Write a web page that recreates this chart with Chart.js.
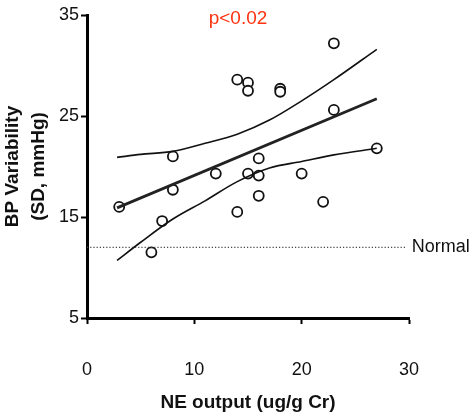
<!DOCTYPE html>
<html>
<head>
<meta charset="utf-8">
<script src="https://cdn.jsdelivr.net/npm/chart.js"></script>
<style>
    body { margin: 0; background: #fff; }
    #wrap { width: 473px; height: 416px; }
</style>
</head>
<body>
<div id="wrap"><canvas id="myChart" width="473" height="416"></canvas></div>
<script>
// NE output (x) vs BP variability (y), one point per subject
const neOutput = [3, 6, 7, 8, 8, 12, 14, 15, 15, 14, 15, 16, 16, 16, 18, 18, 23, 23, 27, 20, 22];
const bpVariability = [16.0, 11.5, 14.6, 17.7, 21.0, 19.3, 28.6, 28.3, 27.5, 15.5, 19.3, 19.1, 20.8, 17.1, 27.7, 27.4, 32.2, 25.6, 21.8, 19.3, 16.5];

// regression line ends and 95% band
const fitX = [2.8, 27];
const fitY = [15.9, 26.7];
const bandX = [2.8, 5, 8, 11, 14, 17, 20, 23, 27];
const bandUpper = [20.9, 21.2, 21.5, 22.3, 23.2, 24.6, 26.5, 28.6, 31.6];
const bandLower = [10.7, 12.5, 14.8, 16.6, 18.5, 19.85, 20.5, 21.15, 21.8];

const normalX = [0, 29.8];
const normalY = 12;
const pText = 'p<0.02';

const xTicks = [0, 10, 20, 30];
const yTicks = [5, 15, 25, 35];

function toPoints(xs, ys) {
    return xs.map((x, i) => ({x: x, y: ys[i]}));
}

const notes = {
    id: 'notes',
    afterDraw(chart) {
        const c = chart.ctx;
        const xs = chart.scales.x;
        const ys = chart.scales.y;
        c.save();
        c.font = '19px "Liberation Sans", Arial, sans-serif';
        c.fillStyle = '#ff3311';
        c.textAlign = 'center';
        c.textBaseline = 'middle';
        c.fillText(pText, 238, 19);
        c.font = '18px "Liberation Sans", Arial, sans-serif';
        c.fillStyle = '#111';
        c.textAlign = 'left';
        c.fillText('Normal', xs.getPixelForValue(normalX[1]) + 5, ys.getPixelForValue(normalY));
        c.restore();
    }
};

const ctx = document.getElementById('myChart').getContext('2d');

const myChart = new Chart(ctx, {
    type: 'scatter',
    data: {
        datasets: [{
            data: toPoints(normalX, [normalY, normalY]),
            showLine: true,
            borderColor: '#444',
            borderWidth: 1.2,
            borderDash: [1.2, 2],
            pointRadius: 0
        }, {
            data: toPoints(bandX, bandUpper),
            showLine: true,
            borderColor: '#111',
            borderWidth: 1.6,
            cubicInterpolationMode: 'monotone',
            pointRadius: 0
        }, {
            data: toPoints(bandX, bandLower),
            showLine: true,
            borderColor: '#111',
            borderWidth: 1.6,
            cubicInterpolationMode: 'monotone',
            pointRadius: 0
        }, {
            data: toPoints(fitX, fitY),
            showLine: true,
            borderColor: '#222',
            borderWidth: 2.8,
            pointRadius: 0
        }, {
            data: toPoints(neOutput, bpVariability),
            showLine: false,
            pointRadius: 5,
            pointBorderWidth: 1.8,
            pointBackgroundColor: '#fff',
            pointBorderColor: '#111'
        }]
    },
    options: {
        responsive: false,
        animation: false,
        layout: {
            padding: {top: 15, right: 64, left: 0, bottom: 0}
        },
        plugins: {
            legend: {display: false},
            tooltip: {enabled: false}
        },
        scales: {
            x: {
                type: 'linear',
                min: 0,
                max: 30,
                afterFit: (scale) => { scale.height = 98; },
                afterBuildTicks: (scale) => { scale.ticks = xTicks.map(v => ({value: v})); },
                border: {display: true, color: '#000', width: 3},
                grid: {drawOnChartArea: false, color: '#000', tickLength: 6, tickWidth: 2},
                ticks: {
                    color: '#111',
                    padding: 35,
                    maxRotation: 0,
                    font: {family: '"Liberation Sans", Arial, sans-serif', size: 18}
                },
                title: {
                    display: true,
                    text: 'NE output (ug/g Cr)',
                    color: '#111',
                    padding: {top: 0, bottom: 2},
                    font: {family: '"Liberation Sans", Arial, sans-serif', size: 19, weight: 'bold'}
                }
            },
            y: {
                type: 'linear',
                min: 5,
                max: 35,
                afterFit: (scale) => { scale.width = 87; },
                afterBuildTicks: (scale) => { scale.ticks = yTicks.map(v => ({value: v})); },
                border: {display: true, color: '#000', width: 3},
                grid: {drawOnChartArea: false, color: '#000', tickLength: 6, tickWidth: 2},
                ticks: {
                    color: '#111',
                    padding: 2,
                    font: {family: '"Liberation Sans", Arial, sans-serif', size: 18}
                },
                title: {
                    display: true,
                    text: ['BP Variability', '(SD, mmHg)'],
                    color: '#111',
                    padding: {top: 0, bottom: 0},
                    font: {family: '"Liberation Sans", Arial, sans-serif', size: 19, weight: 'bold', lineHeight: 1.35}
                }
            }
        }
    },
    plugins: [notes]
});
</script>
</body>
</html>
